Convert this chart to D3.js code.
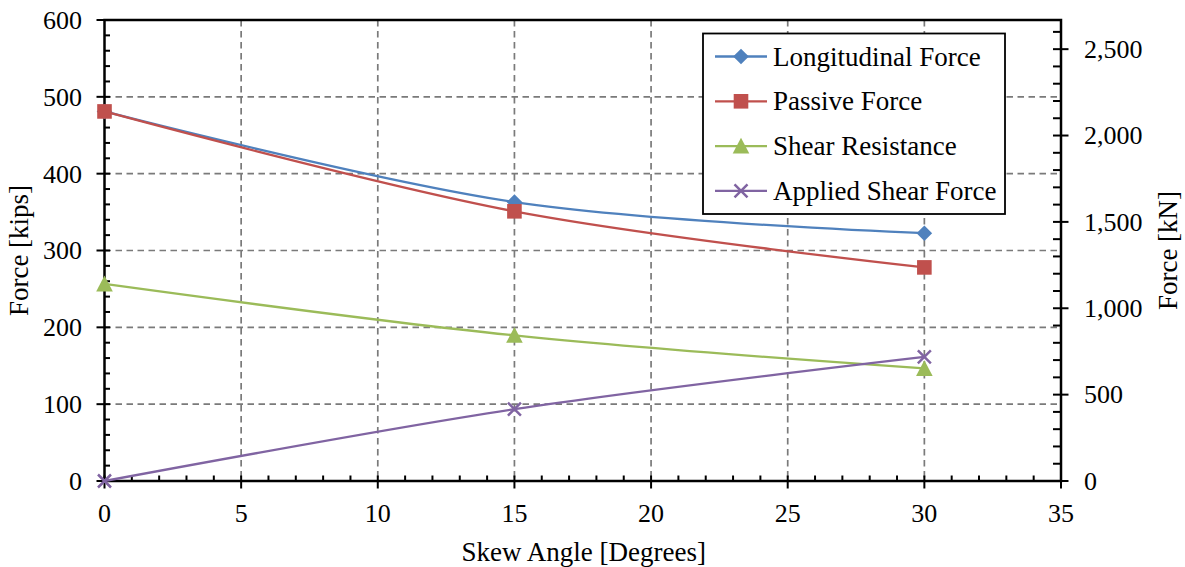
<!DOCTYPE html>
<html>
<head>
<meta charset="utf-8">
<script src="https://cdn.jsdelivr.net/npm/d3@7"></script>
<style>
  html, body { margin: 0; padding: 0; background: #fff; }
  svg { display: block; }
  text { font-family: "Liberation Serif", "Times New Roman", serif; fill: #000; }
</style>
</head>
<body>
<svg id="chart" width="1185" height="567"></svg>
<script>
// ---- data ----
const skewAngles = [0, 15, 30];
const longitudinalForce = [481, 363, 322.5];
const passiveForce = [481, 351, 278];
const shearResistance = [256.5, 189.5, 146.5];
const appliedShearForce = [0, 93.5, 161.5];
const seriesNames = ["Longitudinal Force", "Passive Force", "Shear Resistance", "Applied Shear Force"];
const xTicks = [0, 5, 10, 15, 20, 25, 30, 35];
const yTicksKips = [0, 100, 200, 300, 400, 500, 600];
const yTicksKN = [0, 500, 1000, 1500, 2000, 2500];
const kipToKN = 4.448;

// ---- layout ----
const svg = d3.select("#chart");
const L = 104.5, R = 1061, T = 20, B = 481;
const x = d3.scaleLinear().domain([0, 35]).range([L, R]);
const y = d3.scaleLinear().domain([0, 600]).range([B, T]);
const yKN = d3.scaleLinear().domain([0, 600 * kipToKN]).range([B, T]);

const colors = ["#4F81BD", "#C0504D", "#9BBB59", "#8064A2"];
const markers = ["diamond", "square", "triangle", "x"];
const FS = 26;      // tick labels
const FT = 27;      // titles and legend

// grid
const grid = svg.append("g");
grid.selectAll("line.v").data(xTicks.filter(d => d > 0 && d < 35)).enter().append("line")
  .attr("x1", d => x(d)).attr("x2", d => x(d)).attr("y1", T).attr("y2", B)
  .attr("stroke", "#7a7a7a").attr("stroke-width", 1.7).attr("stroke-dasharray", "6.5,4.5");
grid.selectAll("line.h").data(yTicksKips.filter(d => d > 0 && d < 600)).enter().append("line")
  .attr("y1", d => y(d)).attr("y2", d => y(d)).attr("x1", L).attr("x2", R)
  .attr("stroke", "#7a7a7a").attr("stroke-width", 1.7).attr("stroke-dasharray", "6.5,4.5");

// frame
svg.append("rect").attr("x", L).attr("y", T).attr("width", R - L).attr("height", B - T)
  .attr("fill", "none").attr("stroke", "#000").attr("stroke-width", 2.5);

// ticks
const tk = svg.append("g").attr("stroke", "#000").attr("stroke-width", 2);
d3.range(0, 601, 20).forEach(v => {
  const major = v % 100 === 0;
  tk.append("line").attr("x1", major ? L - 8 : L).attr("x2", L + 5.5)
    .attr("y1", y(v)).attr("y2", y(v));
});
d3.range(0, 36, 1).forEach(v => {
  const major = v % 5 === 0;
  tk.append("line").attr("y1", major ? B + 7.5 : B).attr("y2", B - 5.5)
    .attr("x1", x(v)).attr("x2", x(v));
});
d3.range(0, 600 * kipToKN, 100).forEach(v => {
  const major = v % 500 === 0;
  tk.append("line").attr("x1", major ? R + 7.5 : R).attr("x2", R - 8)
    .attr("y1", yKN(v)).attr("y2", yKN(v));
});

// tick labels
const fmt = d3.format(",");
svg.append("g").selectAll("text").data(yTicksKips).enter().append("text")
  .attr("x", 82).attr("y", d => y(d)).attr("dy", "0.34em")
  .attr("text-anchor", "end").style("font-size", FS + "px").text(d => d);
svg.append("g").selectAll("text").data(xTicks).enter().append("text")
  .attr("x", d => x(d)).attr("y", 522)
  .attr("text-anchor", "middle").style("font-size", FS + "px").text(d => d);
svg.append("g").selectAll("text").data(yTicksKN).enter().append("text")
  .attr("x", 1084).attr("y", d => yKN(d)).attr("dy", "0.34em")
  .attr("text-anchor", "start").style("font-size", FS + "px").text(d => fmt(d));

// axis titles
svg.append("text").attr("x", (L + R) / 2 + 1).attr("y", 561).attr("text-anchor", "middle")
  .style("font-size", FT + "px").text("Skew Angle [Degrees]");
svg.append("text").attr("transform", `translate(28,${(T + B) / 2}) rotate(-90)`)
  .attr("text-anchor", "middle").style("font-size", FT + "px").text("Force [kips]");
svg.append("text").attr("transform", `translate(1177,${(T + B) / 2}) rotate(-90)`)
  .attr("text-anchor", "middle").style("font-size", FT + "px").text("Force [kN]");

// marker drawing
function drawMarker(g, type, cx, cy, color) {
  if (type === "diamond") {
    const s = 7.8;
    g.append("path").attr("d", `M${cx},${cy - s}L${cx + s},${cy}L${cx},${cy + s}L${cx - s},${cy}Z`).attr("fill", color);
  } else if (type === "square") {
    const s = 7.3;
    g.append("rect").attr("x", cx - s).attr("y", cy - s).attr("width", 2 * s).attr("height", 2 * s).attr("fill", color);
  } else if (type === "triangle") {
    const s = 8.3;
    g.append("path").attr("d", `M${cx},${cy - s}L${cx + s},${cy + s * 0.9}L${cx - s},${cy + s * 0.9}Z`).attr("fill", color);
  } else {
    const s = 6.5;
    g.append("path").attr("d", `M${cx - s},${cy - s}L${cx + s},${cy + s}M${cx - s},${cy + s}L${cx + s},${cy - s}`)
      .attr("stroke", color).attr("stroke-width", 2.5).attr("fill", "none");
  }
}

// series
const allSeries = [longitudinalForce, passiveForce, shearResistance, appliedShearForce];
const line = d3.line().x(d => x(d[0])).y(d => y(d[1])).curve(d3.curveCatmullRom.alpha(0.5));
allSeries.forEach((vals, i) => {
  const pts = skewAngles.map((a, j) => [a, vals[j]]);
  svg.append("path").attr("d", line(pts)).attr("fill", "none")
    .attr("stroke", colors[i]).attr("stroke-width", 2.3);
});
allSeries.forEach((vals, i) => {
  const g = svg.append("g");
  skewAngles.forEach((a, j) => drawMarker(g, markers[i], x(a), y(vals[j]), colors[i]));
});

// legend
const lg = svg.append("g");
lg.append("rect").attr("x", 703).attr("y", 33.5).attr("width", 302).attr("height", 180.5)
  .attr("fill", "#fff").attr("stroke", "#000").attr("stroke-width", 1.8);
seriesNames.forEach((name, i) => {
  const cy = 56.5 + i * 44.8;
  lg.append("line").attr("x1", 715).attr("x2", 767).attr("y1", cy).attr("y2", cy)
    .attr("stroke", colors[i]).attr("stroke-width", 2.3);
  drawMarker(lg, markers[i], 741, cy, colors[i]);
  lg.append("text").attr("x", 773).attr("y", cy).attr("dy", "0.34em")
    .style("font-size", FT + "px").text(name);
});
</script>
</body>
</html>
